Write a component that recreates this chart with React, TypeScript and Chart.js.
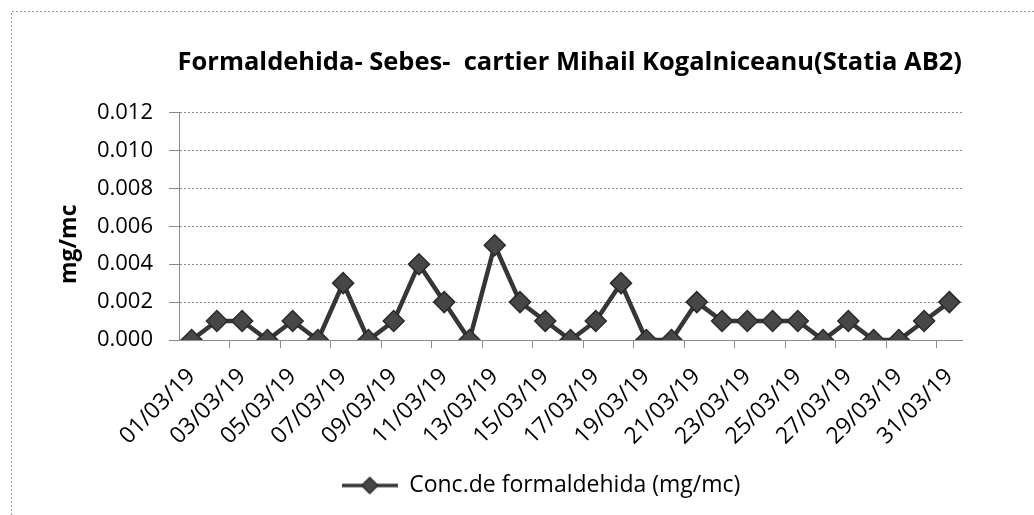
import React, { useEffect, useRef } from 'react';
import { Chart, registerables } from 'chart.js';

Chart.register(...registerables);

const categories: string[] = [
  '01/03/19', '02/03/19', '03/03/19', '04/03/19', '05/03/19', '06/03/19', '07/03/19', '08/03/19',
  '09/03/19', '10/03/19', '11/03/19', '12/03/19', '13/03/19', '14/03/19', '15/03/19', '16/03/19',
  '17/03/19', '18/03/19', '19/03/19', '20/03/19', '21/03/19', '22/03/19', '23/03/19', '24/03/19',
  '25/03/19', '26/03/19', '27/03/19', '28/03/19', '29/03/19', '30/03/19', '31/03/19',
];

const concValues: number[] = [
  0, 0.001, 0.001, 0, 0.001, 0, 0.003, 0, 0.001, 0.004, 0.002, 0, 0.005, 0.002, 0.001, 0,
  0.001, 0.003, 0, 0, 0.002, 0.001, 0.001, 0.001, 0.001, 0, 0.001, 0, 0, 0.001, 0.002,
];

const yTickValues: number[] = [0, 0.002, 0.004, 0.006, 0.008, 0.01, 0.012];

const chartTitle = 'Formaldehida- Sebes-  cartier Mihail Kogalniceanu(Statia AB2)';
const seriesLabel = 'Conc.de formaldehida (mg/mc)';
const yAxisTitle = 'mg/mc';

const FONT = "'Open Sans', 'Noto Sans', sans-serif";
const LINE_COLOR = '#363636';
const MARKER_FILL = '#474747';
const MARKER_BORDER = '#2a2a2a';
const GRID_COLOR = '#8c8c8c';

function makeLegendImage(): HTMLCanvasElement {
  const c = document.createElement('canvas');
  c.width = 56;
  c.height = 22;
  const g = c.getContext('2d')!;
  g.strokeStyle = LINE_COLOR;
  g.lineWidth = 3.5;
  g.beginPath();
  g.moveTo(0, 11);
  g.lineTo(56, 11);
  g.stroke();
  g.fillStyle = MARKER_FILL;
  g.strokeStyle = MARKER_BORDER;
  g.lineWidth = 1.5;
  g.beginPath();
  g.moveTo(28, 3);
  g.lineTo(36, 11);
  g.lineTo(28, 19);
  g.lineTo(20, 11);
  g.closePath();
  g.fill();
  g.stroke();
  return c;
}

const borderPlugin = {
  id: 'pageBorder',
  beforeDraw(chart: any) {
    const ctx = chart.ctx;
    ctx.save();
    ctx.strokeStyle = '#9a9a9a';
    ctx.lineWidth = 1;
    ctx.setLineDash([2, 2]);
    ctx.beginPath();
    ctx.moveTo(11.5, chart.height);
    ctx.lineTo(11.5, 11.5);
    ctx.lineTo(chart.width, 11.5);
    ctx.stroke();
    ctx.restore();
  },
};

const legendShiftPlugin = {
  id: 'legendShift',
  afterLayout(chart: any) {
    const lg = chart.legend;
    if (lg) {
      lg.left += 34;
      lg.right += 34;
    }
  },
};

export default function App() {
  const canvasRef = useRef<HTMLCanvasElement | null>(null);

  useEffect(() => {
    if (!canvasRef.current) return;
    const legendImg = makeLegendImage();
    const chart = new Chart(canvasRef.current, {
      type: 'line',
      data: {
        labels: categories,
        datasets: [
          {
            label: seriesLabel,
            data: concValues,
            borderColor: LINE_COLOR,
            borderWidth: 4.5,
            backgroundColor: MARKER_FILL,
            pointStyle: 'rectRot',
            pointRadius: 10.5,
            pointBackgroundColor: MARKER_FILL,
            pointBorderColor: MARKER_BORDER,
            pointBorderWidth: 1.5,
            tension: 0,
          },
        ],
      },
      options: {
        animation: false,
        responsive: true,
        maintainAspectRatio: false,
        layout: { padding: { left: 52, right: 72, top: 8, bottom: 8 } },
        plugins: {
          title: {
            display: true,
            text: chartTitle,
            color: '#000',
            align: 'end',
            font: { family: FONT, size: 25.5, weight: 'bold' },
            padding: { top: 39, bottom: 35 },
          },
          legend: {
            display: true,
            position: 'bottom',
            labels: {
              color: '#000',
              font: { family: FONT, size: 23 },
              usePointStyle: true,
              pointStyleWidth: 56,
              padding: 8,
              generateLabels: () => [
                {
                  text: seriesLabel,
                  pointStyle: legendImg as any,
                  fillStyle: MARKER_FILL,
                  strokeStyle: LINE_COLOR,
                  lineWidth: 0,
                  datasetIndex: 0,
                  hidden: false,
                  fontColor: '#000',
                } as any,
              ],
            },
          },
          tooltip: { enabled: false },
        },
        scales: {
          x: {
            type: 'category',
            offset: true,
            afterFit: (scale: any) => {
              scale.height = 126;
            },
            grid: {
              display: true,
              offset: true,
              drawOnChartArea: false,
              drawTicks: true,
              tickLength: 8,
              color: (ctx: any) => (ctx.index > 0 && ctx.index % 2 === 0 ? GRID_COLOR : 'rgba(0,0,0,0)'),
            },
            border: { display: true, color: GRID_COLOR, dash: [2, 2] },
            ticks: {
              autoSkip: false,
              maxRotation: 45,
              minRotation: 45,
              padding: 15,
              color: '#000',
              font: { family: FONT, size: 23 },
              callback: (_v: any, i: number) => (i % 2 === 0 ? categories[i] : ''),
            },
          },
          y: {
            min: 0,
            max: 0.012,
            afterFit: (scale: any) => {
              scale.width = 127;
            },
            afterBuildTicks: (scale: any) => {
              scale.ticks = yTickValues.map((v) => ({ value: v }));
            },
            title: {
              display: true,
              text: yAxisTitle + '      ',
              color: '#000',
              font: { family: FONT, size: 23, weight: 'bold' },
            },
            grid: {
              color: GRID_COLOR,
              tickLength: 10,
              lineWidth: 1,
            },
            border: { display: true, color: GRID_COLOR, dash: [2, 2] },
            ticks: {
              padding: 16,
              color: '#000',
              font: { family: FONT, size: 22 },
              callback: (v: any) => Number(v).toFixed(3),
            },
          },
        },
      },
      plugins: [borderPlugin, legendShiftPlugin],
    });
    (chart.options.scales as any).y.grid.dash = [2, 2];
    chart.update();
    return () => chart.destroy();
  }, []);

  return (
    <div style={{ position: 'fixed', left: 0, top: 0, width: 1034, height: 515, background: '#fff' }}>
      <canvas ref={canvasRef} />
    </div>
  );
}
